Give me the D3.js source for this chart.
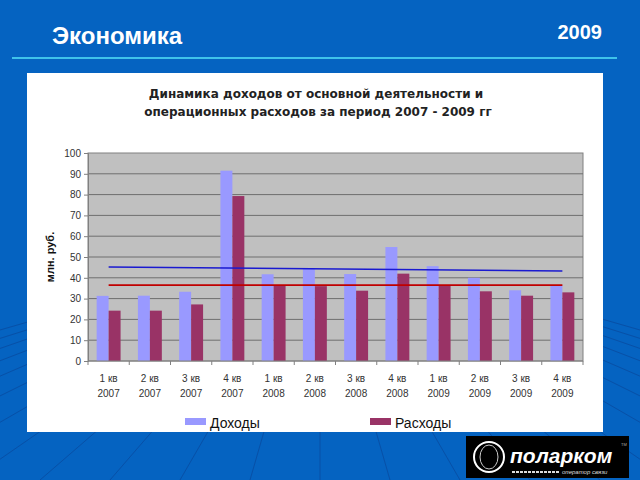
<!DOCTYPE html>
<html>
<head>
<meta charset="utf-8">
<script src="https://cdn.jsdelivr.net/npm/d3@7"></script>
<style>
  body { margin: 0; background: #0563c1; }
  svg { display: block; }
</style>
</head>
<body>
<svg id="chart" width="640" height="480"></svg>
<script>
const quarters = ["1 кв", "2 кв", "3 кв", "4 кв", "1 кв", "2 кв", "3 кв", "4 кв", "1 кв", "2 кв", "3 кв", "4 кв"];
const years = ["2007", "2007", "2007", "2007", "2008", "2008", "2008", "2008", "2009", "2009", "2009", "2009"];
const income = [31.3, 31.4, 33.3, 91.5, 41.7, 44.6, 41.8, 54.8, 45.6, 40, 34, 36.5];
const expenses = [24.2, 24.2, 27.2, 79.3, 36.3, 36, 33.8, 42, 36.4, 33.5, 31.4, 33];
// trend lines, first and last quarter
const incomeTrend = [45.2, 43.3];
const expenseTrend = [36.5, 36.5];
const yTicks = [0, 10, 20, 30, 40, 50, 60, 70, 80, 90, 100];
const seriesNames = ["Доходы", "Расходы"];
const colors = ["#9999ff", "#993366"];

const svg = d3.select("#chart");

// background with faint radiating lines
svg.append("rect").attr("width", 640).attr("height", 480).attr("fill", "#0563c1");
const rays = svg.append("g").attr("stroke", "#0a3f8f").attr("stroke-width", 1).attr("opacity", 0.5);
d3.range(-12, 13).forEach((k) => {
  rays.append("line")
    .attr("x1", 320 + k * 18).attr("y1", 300)
    .attr("x2", 320 + k * 70).attr("y2", 480);
});

// header
svg.append("text").attr("x", 52).attr("y", 44)
  .attr("font-family", "Arial, 'Liberation Sans', sans-serif")
  .attr("font-weight", "bold").attr("font-size", 24).attr("fill", "#fff")
  .text("Экономика");
svg.append("text").attr("x", 602).attr("y", 39).attr("text-anchor", "end")
  .attr("font-family", "Arial, 'Liberation Sans', sans-serif")
  .attr("font-weight", "bold").attr("font-size", 20).attr("fill", "#fff")
  .text("2009");
svg.append("line").attr("x1", 12).attr("x2", 617).attr("y1", 58).attr("y2", 58)
  .attr("stroke", "#3fc3ea").attr("stroke-width", 2);

// white panel
svg.append("rect").attr("x", 27).attr("y", 73).attr("width", 576).attr("height", 359)
  .attr("fill", "#fff");

const title = svg.append("text").attr("text-anchor", "middle")
  .attr("font-family", "'DejaVu Sans', Verdana, sans-serif")
  .attr("font-weight", "bold").attr("font-size", 12).attr("fill", "#222");
title.append("tspan").attr("x", 316).attr("y", 98).text("Динамика доходов от основной деятельности и");
title.append("tspan").attr("x", 318).attr("y", 116).text("операционных расходов за период 2007 - 2009 гг");

const plotL = 88, plotR = 583, plotT = 153, plotB = 361;

const x = d3.scaleBand().domain(d3.range(quarters.length)).range([plotL, plotR])
  .paddingInner(0.42).paddingOuter(0.21);
const sub = d3.scaleBand().domain([0, 1]).range([0, x.bandwidth()]);
const y = d3.scaleLinear().domain([0, 100]).range([plotB, plotT]);

// plot area
svg.append("rect").attr("x", plotL).attr("y", plotT).attr("width", plotR - plotL)
  .attr("height", plotB - plotT).attr("fill", "#c0c0c0").attr("stroke", "#808080");

svg.append("g").selectAll("line").data(yTicks.filter((d) => d > 0 && d < 100)).join("line")
  .attr("x1", plotL).attr("x2", plotR)
  .attr("y1", (d) => y(d)).attr("y2", (d) => y(d))
  .attr("stroke", "#6e6e6e").attr("stroke-width", 1);

// bars
[income, expenses].forEach((series, s) => {
  svg.append("g").selectAll("rect").data(series).join("rect")
    .attr("x", (d, i) => x(i) + sub(s))
    .attr("y", (d) => y(d))
    .attr("width", sub.bandwidth())
    .attr("height", (d) => y(0) - y(d))
    .attr("fill", colors[s]);
});

// trend lines
const cx = (i) => x(i) + x.bandwidth() / 2;
const last = quarters.length - 1;
[[incomeTrend, "#1a1ad0"], [expenseTrend, "#c00000"]].forEach(([vals, c]) => {
  svg.append("line")
    .attr("x1", cx(0)).attr("y1", y(vals[0]))
    .attr("x2", cx(last)).attr("y2", y(vals[1]))
    .attr("stroke", c).attr("stroke-width", 1.6);
});

// y axis
const yAxis = svg.append("g").attr("transform", `translate(${plotL},0)`)
  .call(d3.axisLeft(y).tickValues(yTicks).tickSize(4).tickPadding(3));
yAxis.select(".domain").attr("stroke", "#808080");
yAxis.selectAll(".tick line").attr("stroke", "#808080");
yAxis.selectAll("text").attr("font-family", "Arial, 'Liberation Sans', sans-serif")
  .attr("font-size", 10).attr("fill", "#333");

// x axis
const xb = svg.append("g");
xb.append("line").attr("x1", plotL).attr("x2", plotR).attr("y1", plotB).attr("y2", plotB)
  .attr("stroke", "#808080");
xb.selectAll("line.tick").data(d3.range(quarters.length + 1)).join("line")
  .attr("class", "tick")
  .attr("x1", (i) => plotL + i * x.step()).attr("x2", (i) => plotL + i * x.step())
  .attr("y1", plotB).attr("y2", plotB + 4).attr("stroke", "#808080");
const xl = xb.selectAll("text").data(quarters).join("text")
  .attr("text-anchor", "middle")
  .attr("font-family", "'Liberation Sans Narrow', 'Arial Narrow', Arial, sans-serif")
  .attr("font-size", 10).attr("fill", "#333");
xl.append("tspan").attr("x", (d, i) => cx(i)).attr("y", 382).text((d) => d);
xl.append("tspan").attr("x", (d, i) => cx(i)).attr("y", 397).text((d, i) => years[i]);

// y title
svg.append("text").attr("transform", "translate(54,257) rotate(-90)")
  .attr("text-anchor", "middle")
  .attr("font-family", "Arial, 'Liberation Sans', sans-serif")
  .attr("font-weight", "bold").attr("font-size", 11).attr("fill", "#111")
  .text("млн. руб.");

// legend
const legendX = [185, 370];
seriesNames.forEach((name, s) => {
  svg.append("rect").attr("x", legendX[s]).attr("y", 418).attr("width", 21).attr("height", 7)
    .attr("fill", colors[s]);
  svg.append("text").attr("x", legendX[s] + 25).attr("y", 428)
    .attr("font-family", "Arial, 'Liberation Sans', sans-serif")
    .attr("font-size", 14).attr("fill", "#111").text(name);
});

// logo
const logo = svg.append("g");
logo.append("rect").attr("x", 466).attr("y", 436).attr("width", 163).attr("height", 42).attr("fill", "#000");
logo.append("circle").attr("cx", 489).attr("cy", 457).attr("r", 15)
  .attr("fill", "none").attr("stroke", "#fff").attr("stroke-width", 2);
logo.append("ellipse").attr("cx", 489).attr("cy", 457).attr("rx", 9).attr("ry", 12)
  .attr("fill", "none").attr("stroke", "#ccc").attr("stroke-width", 1);
logo.append("text").attr("x", 510).attr("y", 463)
  .attr("font-family", "Arial, 'Liberation Sans', sans-serif")
  .attr("font-weight", "bold").attr("font-style", "italic").attr("font-size", 21)
  .attr("fill", "#fff").text("поларком");
logo.append("line").attr("x1", 512).attr("x2", 560).attr("y1", 472).attr("y2", 472)
  .attr("stroke", "#ddd").attr("stroke-width", 2).attr("stroke-dasharray", "3,1");
logo.append("text").attr("x", 562).attr("y", 474)
  .attr("font-family", "Arial, 'Liberation Sans', sans-serif")
  .attr("font-style", "italic").attr("font-size", 6).attr("fill", "#ddd").text("оператор связи");
logo.append("text").attr("x", 621).attr("y", 446)
  .attr("font-family", "Arial, sans-serif").attr("font-size", 4).attr("fill", "#aaa").text("TM");
</script>
</body>
</html>
